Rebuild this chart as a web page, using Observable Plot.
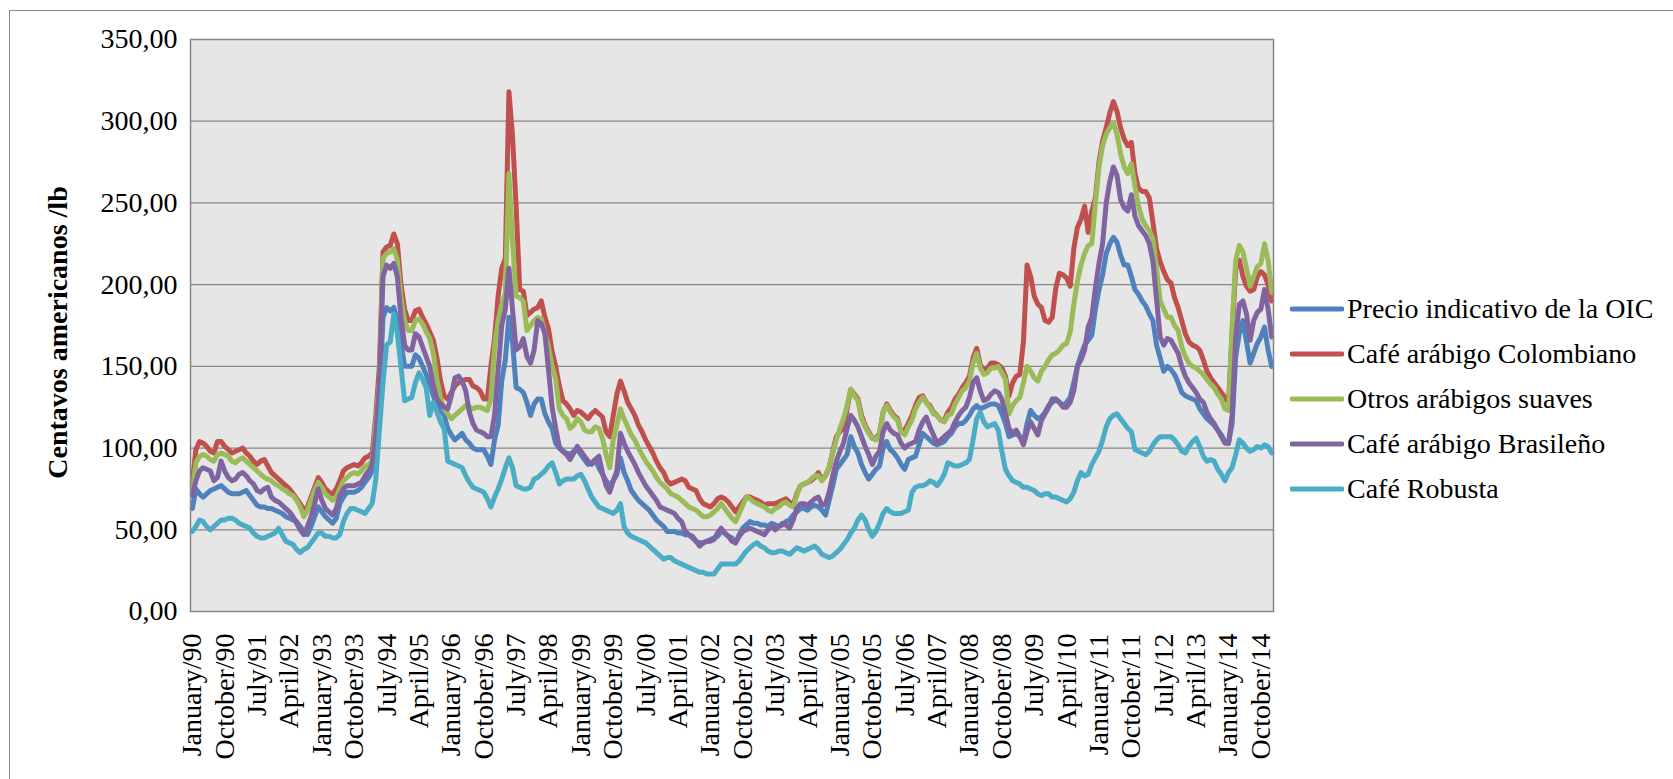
<!DOCTYPE html>
<html>
<head>
<meta charset="utf-8">
<script src="https://cdn.jsdelivr.net/npm/d3@7"></script>
<script src="https://cdn.jsdelivr.net/npm/@observablehq/plot@0.6"></script>
<style>
html,body{margin:0;padding:0;background:#fff;overflow:hidden;width:1673px;height:779px;}
#wrap{position:relative;width:1673px;height:779px;}
#frame{position:absolute;left:9px;top:10px;width:1700px;height:800px;border:1.5px solid #8a8a8a;box-sizing:border-box;}
#chart{position:absolute;left:0;top:0;}
#legend{position:absolute;left:1290px;top:286px;font-family:"Liberation Serif","Times New Roman",serif;font-size:28px;color:#000;}
.row{display:flex;align-items:center;height:45px;white-space:nowrap;}
.row svg{margin-right:3px;}
</style>
</head>
<body>
<div id="wrap"><div id="frame"></div><div id="chart"></div><div id="legend"></div></div>
<script>
const seriesNames = ["Precio indicativo de la OIC","Café arábigo Colombiano","Otros arábigos suaves","Café arábigo Brasileño","Café Robusta"];
const seriesColors = ["#4F81BD","#C0504D","#9BBB59","#8064A2","#4BACC6"];
const yTitle = "Centavos americanos /lb";
const tickLabels = ["January/90","October/90","July/91","April/92","January/93","October/93","July/94","April/95","January/96","October/96","July/97","April/98","January/99","October/99","July/00","April/01","January/02","October/02","July/03","April/04","January/05","October/05","July/06","April/07","January/08","October/08","July/09","April/10","January/11","October/11","July/12","April/13","January/14","October/14"];
const yTicks = [0,50,100,150,200,250,300,350];

// Monthly values, January 1990 to January 2015 (US cents/lb)
const oic = [
63,75,72,70,72,74,75,76,77,75,
73,72,72,72,73,74,71,68,65,64,
64,63,63,62,61,60,58,57,56,55,
52,49,47,52,58,64,61,58,56,54,
57,66,70,73,73,73,74,76,79,82,
86,103,128,180,186,184,186,178,165,150,
150,150,157,155,150,145,139,132,126,123,
120,112,108,105,107,109,105,103,100,99,
99,99,95,90,105,114,141,154,180,165,
137,136,134,128,120,127,130,130,121,116,
112,103,100,98,97,96,98,99,96,93,
90,91,93,88,84,80,77,80,84,94,
85,80,74,71,68,66,64,62,59,56,
54,52,49,49,49,48,48,47,47,45,
43,42,42,43,44,45,46,49,48,46,
45,42,47,51,53,55,54,54,53,53,
52,54,53,52,53,55,56,59,61,63,
63,62,64,65,64,62,59,68,77,87,
90,93,96,107,101,97,90,85,81,84,
87,89,100,104,99,97,94,90,87,93,
94,95,102,109,107,105,103,102,103,104,
107,109,113,115,115,117,120,124,126,124,
125,126,127,127,126,121,115,107,108,109,
107,103,115,123,120,118,119,122,126,128,
130,128,126,128,131,140,150,157,163,166,
169,185,197,206,219,225,229,226,218,212,
212,205,197,194,190,187,182,178,163,155,
147,150,148,145,140,134,132,131,130,129,
124,121,118,116,114,111,108,104,103,115,
156,170,178,165,152,158,164,168,174,160,
150];
const colombiano = [
79,99,104,103,101,98,97,104,104,101,
99,97,98,99,100,97,95,92,90,92,
93,89,85,83,81,79,77,75,72,69,
66,62,64,70,76,82,79,75,73,72,
75,80,86,88,89,90,89,91,94,95,
97,120,150,220,223,224,231,225,200,185,
178,178,184,185,180,176,171,166,155,141,
132,130,134,138,140,141,142,142,138,137,
135,130,130,150,167,193,210,216,318,291,
248,197,196,181,183,185,186,190,180,173,
159,150,138,129,127,124,120,123,122,120,
118,121,123,121,119,110,107,120,133,141,
135,128,124,120,114,110,105,101,97,92,
88,85,80,78,79,80,81,80,76,75,
74,69,66,65,64,66,69,70,69,67,
64,61,64,67,70,70,69,68,67,65,
66,66,66,67,68,69,67,65,72,77,
78,79,80,82,85,81,83,88,98,107,
110,112,124,136,133,130,120,114,110,106,
106,109,122,127,123,120,118,110,111,115,
120,126,131,132,128,126,122,120,117,117,
122,125,130,133,137,140,144,155,161,151,
147,149,152,152,151,149,144,132,140,144,
145,165,212,205,193,188,186,178,177,180,
198,207,206,204,199,222,235,240,248,232,
245,253,275,288,296,305,312,306,296,289,
285,287,268,259,257,257,253,238,222,214,
208,203,201,192,186,178,170,165,163,162,
160,154,147,143,140,137,134,131,128,170,
210,215,205,199,196,197,205,208,206,200,
190];
const otrosSuaves = [
73,91,95,96,95,93,92,96,97,96,
95,92,91,93,94,92,90,88,86,84,
82,81,80,78,77,75,74,72,71,68,
64,58,62,68,74,79,76,72,70,68,
70,75,80,82,84,85,84,86,89,90,
92,116,141,216,219,220,222,215,192,178,
172,172,178,179,176,171,167,158,142,131,
124,121,118,120,122,124,126,125,124,125,
125,124,123,130,162,178,188,195,268,227,
193,192,190,172,175,178,180,179,170,162,
150,142,124,120,118,112,114,118,116,111,
110,110,113,112,106,96,88,105,114,124,
118,113,108,105,100,96,92,89,86,82,
79,77,75,72,71,70,68,66,64,63,
62,60,58,58,59,61,63,66,63,60,
57,55,60,65,70,69,67,66,65,64,
62,61,63,64,66,67,65,64,71,77,
78,79,81,83,83,80,83,89,97,105,
112,118,126,136,132,129,118,113,109,106,
105,108,122,126,122,119,117,110,108,113,
117,124,128,131,128,125,121,120,117,116,
120,121,127,131,135,137,141,152,158,149,
145,146,149,149,150,146,142,121,126,129,
131,140,150,147,143,141,147,150,154,157,
158,160,163,164,171,188,202,212,219,224,
225,250,272,285,292,296,299,292,280,272,
268,274,260,248,240,236,233,228,210,190,
185,180,180,175,172,162,156,152,150,149,
147,145,142,139,137,133,130,124,123,174,
215,224,220,210,199,205,211,213,225,215,
195];
const brasileno = [
71,80,86,88,87,86,80,82,92,86,
82,80,81,84,85,83,80,78,74,73,
75,76,70,68,67,65,63,61,58,54,
50,47,52,58,66,75,68,63,61,59,
63,71,75,77,77,77,78,79,83,86,
90,109,139,205,212,210,213,205,180,163,
160,160,170,168,162,156,150,138,130,127,
125,124,132,143,144,141,135,122,115,111,
110,109,107,107,120,148,175,185,210,185,
160,162,167,156,152,160,178,176,170,148,
125,112,101,98,96,93,97,101,98,95,
92,90,93,95,85,77,73,80,86,109,
103,98,94,90,85,81,77,74,71,68,
64,63,62,61,60,57,55,49,47,46,
43,40,42,43,43,44,48,51,48,46,
43,42,46,49,50,51,50,49,48,47,
50,52,50,52,54,53,51,56,63,66,
66,65,67,69,70,65,66,73,83,92,
98,103,112,120,117,113,107,101,96,90,
95,98,110,115,111,109,108,103,100,102,
103,104,111,116,119,113,108,103,105,107,
109,111,116,120,123,125,131,140,143,135,
129,130,133,135,134,130,121,112,109,111,
107,102,110,116,112,108,117,121,125,130,
130,128,125,125,128,135,150,154,160,174,
180,198,213,225,250,263,272,267,252,247,
245,255,242,236,233,230,225,214,191,168,
163,167,166,162,158,150,144,140,137,134,
130,128,122,118,115,111,107,103,103,120,
168,188,190,182,166,178,183,185,197,185,
168];
const robusta = [
49,52,56,55,52,50,52,54,56,56,
57,57,56,54,53,52,51,48,46,45,
45,46,47,48,51,47,43,42,41,38,
36,38,39,42,45,48,48,46,46,45,
45,47,55,60,63,63,62,61,60,63,
66,81,111,140,163,165,182,170,150,129,
130,131,140,146,142,137,120,128,122,116,
112,92,91,90,89,88,83,79,76,75,
74,73,69,64,70,75,81,88,94,88,
77,76,75,75,76,81,82,84,86,89,
91,85,78,80,81,81,81,83,84,80,
75,70,67,64,63,62,61,60,62,66,
52,48,46,45,44,43,42,40,38,36,
34,32,33,33,31,30,29,28,27,26,
25,24,24,23,23,23,26,29,29,29,
29,29,31,34,37,39,41,42,40,39,
37,36,36,37,37,36,35,37,39,38,
37,38,39,40,38,35,34,33,34,36,
38,41,44,48,51,56,59,56,50,46,
49,54,60,63,61,60,60,60,61,62,
73,76,77,77,78,80,79,77,80,84,
91,90,89,89,90,91,93,105,118,122,
116,113,114,115,111,98,87,83,80,79,
78,76,76,75,74,72,71,72,72,70,
70,69,68,67,69,73,80,85,83,84,
90,94,98,105,113,118,120,121,118,115,
112,110,99,98,97,96,98,102,105,107,
107,107,107,105,102,98,97,101,104,106,
101,95,92,93,92,87,84,80,85,88,
96,105,103,100,98,99,101,100,102,101,
97];

const allSeries = [oic, colombiano, otrosSuaves, brasileno, robusta];
const rows = allSeries.flatMap((vals, k) => vals.map((v, i) => ({m: i, v, s: seriesNames[k]})));
const tickIdx = tickLabels.map((_, i) => i * 9);
const fmt = d => d.toFixed(2).replace(".", ",");
const serif = "'Liberation Serif', 'Times New Roman', serif";

const chart = Plot.plot({
  width: 1673,
  height: 779,
  marginLeft: 190,
  marginRight: 400,
  marginTop: 39,
  marginBottom: 168,
  style: {fontFamily: serif, fontSize: "28px", background: "transparent", color: "#000"},
  x: {type: "linear", domain: [-0.5, oic.length - 0.5]},
  y: {domain: [0, 350]},
  color: {domain: seriesNames, range: seriesColors},
  marks: [
    Plot.frame({fill: "#e6e6e6", stroke: null}),
    Plot.gridY(yTicks.filter(d => d > 0 && d < 350), {stroke: "#868686", strokeOpacity: 1, strokeWidth: 1.2}),
    Plot.line(rows, {x: "m", y: "v", z: "s", stroke: "s", strokeWidth: 5, strokeLinejoin: "round", strokeLinecap: "round"}),
    Plot.frame({stroke: "#868686", strokeWidth: 1.5}),
    Plot.axisX(tickIdx, {tickFormat: i => tickLabels[i / 9], tickRotate: -90, tickSize: 0, tickPadding: 22, label: null, fontSize: 28}),
    Plot.axisY(yTicks, {tickFormat: fmt, tickSize: 0, tickPadding: 13, label: null, fontSize: 28}),
    Plot.text([yTitle], {text: d => d, frameAnchor: "left", textAnchor: "middle", dx: -132, dy: 7, rotate: -90, fontWeight: "bold", fontSize: 28})
  ]
});
document.getElementById("chart").appendChild(chart);

const legend = document.getElementById("legend");
seriesNames.forEach((name, k) => {
  const row = document.createElement("div");
  row.className = "row";
  row.innerHTML = `<svg width="54" height="10"><line x1="2" y1="5" x2="52" y2="5" stroke="${seriesColors[k]}" stroke-width="5" stroke-linecap="round"/></svg><span>${name}</span>`;
  legend.appendChild(row);
});
</script>
</body>
</html>
